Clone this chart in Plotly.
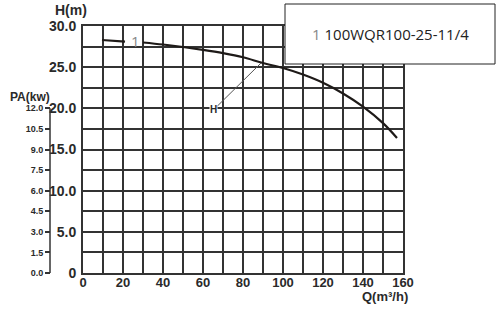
import plotly.graph_objects as go

# Pump curve H-Q (gap around the "1" label)
q_flow = [9.5, 21, None, 30, 40, 50, 60, 70, 80, 90, 100, 110, 120, 130, 140, 150, 157]
h_head = [28.3, 28.1, None, 28.0, 27.75, 27.45, 27.1, 26.7, 26.2, 25.5, 24.9, 24.1, 23.1, 21.8, 20.2, 18.2, 16.4]

x_ticks = list(range(0, 161, 10))
x_labels = [str(v) if v % 20 == 0 else "" for v in x_ticks]
h_ticks = [i * 2.5 for i in range(13)]
h_labels = ["0", "", "5.0", "", "10.0", "", "15.0", "", "20.0", "", "25.0", "", "30.0"]
pa_ticks = [i * 1.5 for i in range(9)]
pa_labels = ["0.0", "1.5", "3.0", "4.5", "6.0", "7.5", "9.0", "10.5", "12.0"]

model_name = "100WQR100-25-11/4"

W, H = 500, 310
L, R, T, B = 83, 403, 26, 273  # plot area in pixels


def px_x(p):
    return p / W


def px_y(p):
    return (B - p) / (B - T)


grid = "#333333"
bold = dict(family="Liberation Sans, Arial", weight="bold", color="#2a2a2a")

fig = go.Figure()
fig.add_trace(go.Scatter(
    x=q_flow, y=h_head, mode="lines", line=dict(color="#1e1a18", width=2.2, shape="spline"),
    connectgaps=False, showlegend=False, hoverinfo="skip"))
# empty trace so that the PA axis is drawn
fig.add_trace(go.Scatter(x=[None], y=[None], yaxis="y2", mode="markers",
                         showlegend=False, hoverinfo="skip"))

fig.update_layout(
    width=W, height=H,
    margin=dict(l=0, r=0, t=T, b=H - B, autoexpand=False),
    paper_bgcolor="white", plot_bgcolor="white",
    showlegend=False,
    xaxis=dict(domain=[L / W, R / W], range=[0, 160], tickvals=x_ticks, ticktext=x_labels,
               showgrid=True, gridcolor=grid, gridwidth=2, zeroline=False,
               showline=True, linecolor=grid, linewidth=2, mirror=True, ticks="",
               ticklabelstandoff=-4,
               tickfont=dict(size=13, **bold)),
    yaxis=dict(range=[0, 30], tickvals=h_ticks, ticktext=h_labels,
               showgrid=True, gridcolor=grid, gridwidth=2, zeroline=False,
               showline=True, linecolor=grid, linewidth=2, mirror=True, ticks="",
               ticklabelstandoff=2,
               tickfont=dict(size=14, **bold)),
    yaxis2=dict(overlaying="y", anchor="free", position=50 / W, side="left",
                range=[0, 18], tickvals=pa_ticks, ticktext=pa_labels,
                showgrid=False, zeroline=False, showline=False,
                ticks="outside", ticklen=5, tickwidth=1.5, tickcolor="#333",
                tickfont=dict(size=9, **bold)),
)

# PA axis line (0 to 12 kW, aligned with H 0..20)
fig.add_shape(type="line", xref="paper", yref="y", x0=50 / W, x1=50 / W, y0=0, y1=20,
              line=dict(color="#333", width=1.5))

# Legend box
fig.add_shape(type="rect", xref="paper", yref="paper",
              x0=px_x(285), x1=px_x(495), y0=px_y(64), y1=px_y(4),
              line=dict(color="#222", width=1), fillcolor="white", layer="above")

fig.add_annotation(xref="paper", yref="paper", x=px_x(390), y=px_y(34),
                   xanchor="center", yanchor="middle",
                   text="<span style='color:#888888'>1</span> " + model_name,
                   showarrow=False, font=dict(family="Open Sans", size=15, color="#222"))

# curve label
fig.add_annotation(x=26, y=28.15, text="1", showarrow=False,
                   xanchor="center", yanchor="middle",
                   font=dict(family="Open Sans", size=15, color="#888888"))

# H label with leader line
fig.add_annotation(x=89, y=25.5, ax=65.2, ay=19.8, axref="x", ayref="y",
                   text="H", showarrow=True, arrowhead=0, arrowwidth=1, arrowcolor="#555",
                   bgcolor="white", borderpad=0,
                   font=dict(size=10, **bold))

# axis titles
fig.add_annotation(xref="paper", yref="paper", x=px_x(71), y=px_y(10), text="H(m)",
                   xanchor="center", yanchor="middle",
                   showarrow=False, font=dict(size=14, **bold))
fig.add_annotation(xref="paper", yref="paper", x=px_x(30), y=px_y(97), text="PA(kw)",
                   xanchor="center", yanchor="middle",
                   showarrow=False, font=dict(size=12, **bold))
fig.add_annotation(xref="paper", yref="paper", x=px_x(385), y=px_y(296), text="Q(m³/h)",
                   xanchor="center", yanchor="middle",
                   showarrow=False, font=dict(size=13, **bold))

fig.write_html("out.html")
